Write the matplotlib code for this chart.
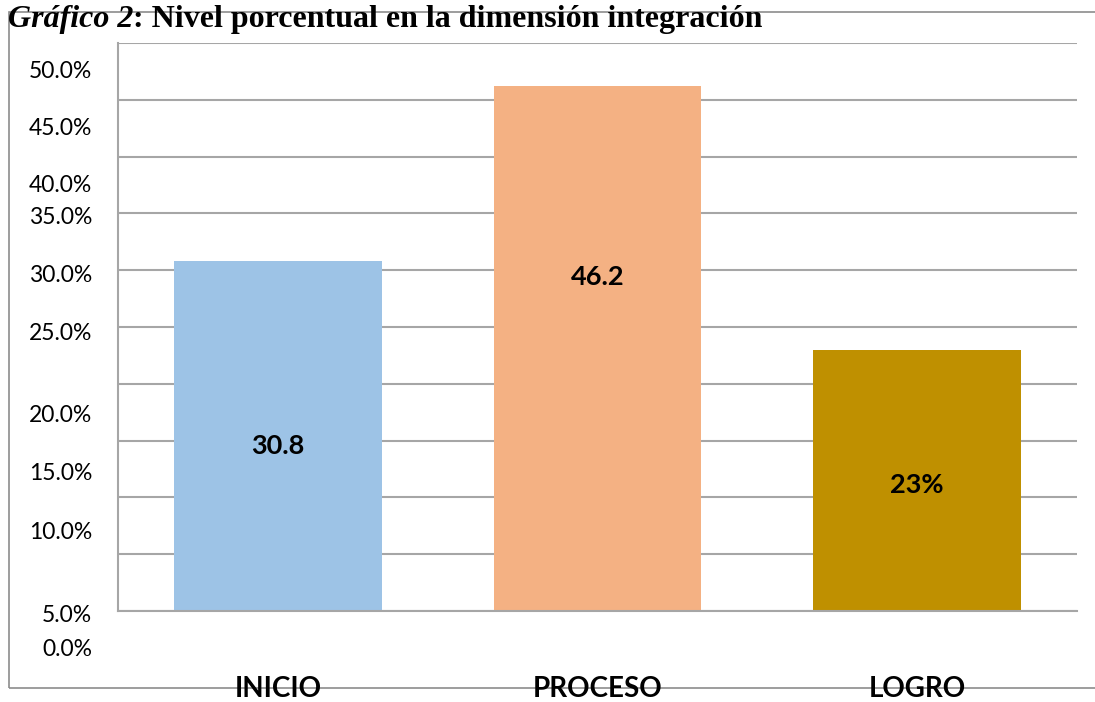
# Nivel porcentual en la dimension integracion - bar chart

from matplotlib import pyplot as plt
from matplotlib.patches import Rectangle
from matplotlib.transforms import blended_transform_factory
import numpy as np

categories = ['INICIO', 'PROCESO', 'LOGRO']
values = [30.8, 46.2, 23.0]
value_labels = ['30.8', '46.2', '23%']
label_y = [14.5, 29.4, 11.1]
colors = ['#9DC3E6', '#F4B183', '#BF9000']

# the y tick labels sit a bit off the gridlines in the original
tick_labels = ['50.0%', '45.0%', '40.0%', '35.0%', '30.0%', '25.0%',
               '20.0%', '15.0%', '10.0%', '5.0%', '0.0%']
tick_label_pos = [47.5, 42.5, 37.5, 34.6, 29.5, 24.4, 17.2, 12.1, 6.95, -0.44, -3.43]

W, H = 1095, 702
fig = plt.figure(figsize=(W / 100, H / 100), dpi=100)
ax = fig.add_axes([118 / W, 91 / H, 959 / W, 568 / H])

x = np.arange(len(categories))
ax.bar(x, values, width=0.65, color=colors, zorder=2)

ax.set_xlim(-0.5, 2.5)
ax.set_ylim(0, 50)
ax.set_yticks(np.arange(0, 55, 5))
ax.set_yticklabels([])
ax.set_xticks([])
ax.tick_params(axis='y', length=0)
ax.yaxis.grid(True, color='#A6A6A6', linewidth=1.5)
ax.set_axisbelow(True)

for s in ['top', 'right']:
    ax.spines[s].set_visible(False)
for s in ['left', 'bottom']:
    ax.spines[s].set_color('#A6A6A6')
    ax.spines[s].set_linewidth(1.5)

# value labels
for xi, lab, ly in zip(x, value_labels, label_y):
    ax.text(xi, ly, lab, ha='center', va='center', fontsize=19.5,
            fontweight='bold', family='Lato', color='black', zorder=3)

# y labels
ytrans = blended_transform_factory(ax.transAxes, ax.transData)
for lab, p in zip(tick_labels, tick_label_pos):
    ax.text(-0.027, p, lab, transform=ytrans, ha='right', va='center',
            fontsize=16.5, family='Lato', color='black', clip_on=False)

# category labels
xtrans = blended_transform_factory(ax.transData, fig.transFigure)
for xi, c in zip(x, categories):
    ax.text(xi, 5 / H, c, transform=xtrans, ha='center', va='baseline',
            fontsize=20, fontweight='bold', family='Lato', color='black',
            clip_on=False, zorder=5)

# outer frame
fig.add_artist(Rectangle((9 / W, 14 / H), 1.2, (688 - 12) / H,
                         transform=fig.transFigure, fill=False,
                         edgecolor='#8C8C8C', linewidth=1.2, zorder=0))

#Title
t1 = fig.text(8 / W, (H - 27) / H, 'Gráfico 2', fontsize=23, family='Liberation Serif',
              fontweight='bold', fontstyle='italic', va='baseline', zorder=5)
fig.canvas.draw()
bb = t1.get_window_extent(renderer=fig.canvas.get_renderer())
fig.text(bb.x1 / W, (H - 27) / H, ': Nivel porcentual en la dimensión integración',
         fontsize=23, family='Liberation Serif', fontweight='bold', va='baseline', zorder=5)

fig.savefig('out.png', dpi=100)
